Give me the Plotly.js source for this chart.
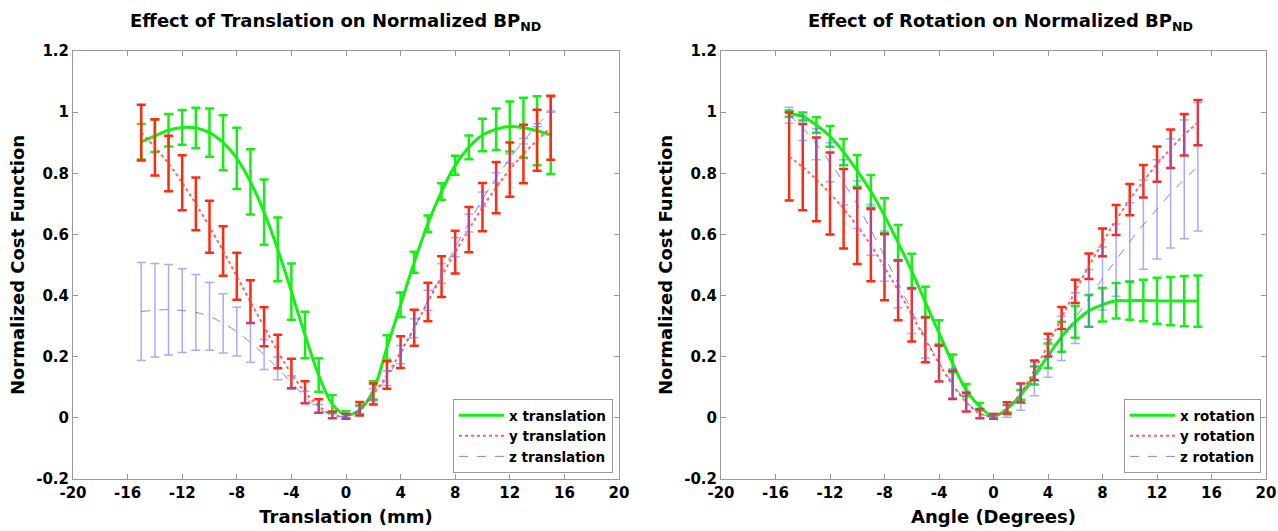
<!DOCTYPE html>
<html>
<head>
<meta charset="utf-8">
<script src="https://cdn.plot.ly/plotly-3.0.1.min.js"></script>
<style>html,body{margin:0;padding:0;background:#fff;}#chart{width:1278px;height:531px;}</style>
</head>
<body>
<div id="chart"></div>
<script>
// ---- data ----
const positions = [-15,-14,-13,-12,-11,-10,-9,-8,-7,-6,-5,-4,-3,-2,-1,0,1,2,3,4,5,6,7,8,9,10,11,12,13,14,15];

const xTransMean = [0.903,0.922,0.941,0.950,0.948,0.933,0.900,0.849,0.772,0.673,0.551,0.413,0.271,0.140,0.045,0.010,0.026,0.090,0.230,0.370,0.509,0.635,0.740,0.826,0.885,0.925,0.944,0.953,0.949,0.939,0.925];
const xTransErr  = [0.058,0.052,0.053,0.057,0.066,0.079,0.090,0.100,0.107,0.107,0.104,0.092,0.076,0.055,0.030,0.012,0.015,0.030,0.040,0.040,0.034,0.027,0.027,0.031,0.039,0.053,0.068,0.082,0.098,0.113,0.127];
const yTransMean = [0.933,0.885,0.832,0.769,0.700,0.625,0.546,0.463,0.380,0.298,0.217,0.145,0.084,0.039,0.010,0.005,0.030,0.078,0.140,0.215,0.295,0.379,0.462,0.542,0.616,0.689,0.753,0.812,0.863,0.908,0.949];
const yTransErr  = [0.091,0.092,0.091,0.090,0.086,0.085,0.081,0.077,0.070,0.064,0.055,0.048,0.036,0.022,0.011,0.008,0.022,0.034,0.045,0.052,0.059,0.063,0.067,0.070,0.074,0.079,0.084,0.089,0.096,0.100,0.105];
const zTransMean = [0.348,0.352,0.354,0.351,0.345,0.332,0.309,0.282,0.246,0.207,0.162,0.116,0.068,0.030,0.010,0.005,0.025,0.075,0.130,0.207,0.293,0.384,0.472,0.558,0.637,0.715,0.785,0.848,0.905,0.957,1.002];
const zTransErr  = [0.160,0.153,0.148,0.137,0.124,0.111,0.097,0.080,0.064,0.049,0.037,0.022,0.019,0.014,0.010,0.006,0.012,0.020,0.024,0.030,0.031,0.033,0.032,0.031,0.029,0.024,0.017,0.015,0.009,0.005,0.002];

const xRotMean = [0.995,0.986,0.958,0.921,0.869,0.808,0.741,0.661,0.573,0.480,0.378,0.278,0.178,0.091,0.037,0.005,0.030,0.075,0.139,0.203,0.265,0.314,0.350,0.370,0.383,0.383,0.384,0.383,0.382,0.382,0.382];
const xRotErr  = [0.010,0.013,0.025,0.034,0.043,0.052,0.053,0.057,0.058,0.057,0.051,0.041,0.029,0.020,0.012,0.008,0.012,0.016,0.030,0.040,0.049,0.052,0.052,0.055,0.058,0.062,0.068,0.075,0.079,0.082,0.084];
const yRotMean = [0.855,0.820,0.780,0.734,0.684,0.627,0.565,0.493,0.417,0.337,0.256,0.178,0.108,0.051,0.014,0.005,0.032,0.081,0.156,0.238,0.327,0.414,0.496,0.574,0.647,0.714,0.774,0.830,0.880,0.926,0.966];
const yRotErr  = [0.144,0.141,0.137,0.134,0.130,0.124,0.118,0.108,0.098,0.087,0.074,0.059,0.046,0.030,0.015,0.008,0.019,0.031,0.032,0.037,0.036,0.038,0.042,0.045,0.049,0.051,0.053,0.058,0.063,0.068,0.074];
const zRotMean = [0.990,0.948,0.895,0.836,0.770,0.697,0.615,0.529,0.439,0.351,0.262,0.181,0.113,0.054,0.015,0.005,0.022,0.067,0.126,0.195,0.260,0.326,0.391,0.456,0.516,0.576,0.632,0.682,0.734,0.780,0.821];
const zRotErr  = [0.026,0.041,0.051,0.064,0.074,0.078,0.083,0.082,0.079,0.075,0.067,0.062,0.048,0.033,0.015,0.008,0.020,0.042,0.054,0.062,0.072,0.083,0.094,0.103,0.118,0.128,0.146,0.162,0.178,0.194,0.210];

const xTickVals = [-20,-16,-12,-8,-4,0,4,8,12,16,20];
const xTickText = ['-20','-16','-12','-8','-4','0','4','8','12','16','20'];
const yTickVals = [-0.2,0,0.2,0.4,0.6,0.8,1,1.2];
const yTickText = ['-0.2','0','0.2','0.4','0.6','0.8','1','1.2'];

const seriesNames = ['x translation','y translation','z translation','x rotation','y rotation','z rotation'];
const titles = ['Effect of Translation on Normalized BP<sub>ND</sub>','Effect of Rotation on Normalized BP<sub>ND</sub>'];
const xTitles = ['Translation (mm)','Angle (Degrees)'];
const yTitle = 'Normalized Cost Function';

// ---- styles ----
const FONT = 'DejaVu Sans, Verdana, sans-serif';
const GREEN = '#14f014', RED = '#ff2a10', BLUE = 'rgba(90,90,255,0.75)';
const styles = [
  {line:{color:GREEN,width:3,dash:'solid',shape:'spline'}, err:{color:GREEN,thickness:2.5,width:4.5}},
  {line:{color:'rgba(255,70,70,0.85)',width:2,dash:'dot',shape:'spline'}, err:{color:RED,thickness:2.5,width:4.5}},
  {line:{color:BLUE,width:1,dash:'dash',shape:'spline'}, err:{color:'rgba(100,100,255,0.55)',thickness:1.5,width:4.5}}
];

function mk(y, e, i, name, xa, ya, leg){
  const s = styles[i];
  return {x:positions, y:y, name:name, type:'scatter', mode:'lines', xaxis:xa, yaxis:ya, legend:leg,
    line:s.line,
    error_y:{type:'data', array:e, visible:true, color:s.err.color, thickness:s.err.thickness, width:s.err.width}};
}

const data = [
  mk(xTransMean,xTransErr,0,seriesNames[0],'x','y','legend'),
  mk(yTransMean,yTransErr,1,seriesNames[1],'x','y','legend'),
  mk(zTransMean,zTransErr,2,seriesNames[2],'x','y','legend'),
  mk(xRotMean,xRotErr,0,seriesNames[3],'x2','y2','legend2'),
  mk(yRotMean,yRotErr,1,seriesNames[4],'x2','y2','legend2'),
  mk(zRotMean,zRotErr,2,seriesNames[5],'x2','y2','legend2')
];

const W = 1278, H = 531;
const tickfont = {family:FONT, size:15, color:'#000', weight:'bold'};
const titlefont = {family:FONT, size:18, color:'#000', weight:'bold'};
function xa(dom, title, anchor){
  return {domain:dom, anchor:anchor, range:[-20,20], tickvals:xTickVals, ticktext:xTickText,
    ticks:'inside', ticklen:5, tickcolor:'#999', showline:true, linecolor:'#999', linewidth:1, mirror:'ticks',
    showgrid:false, zeroline:false, tickfont:tickfont, fixedrange:true,
    title:{text:title, font:titlefont, standoff:9}};
}
function ya(anchor){
  return {domain:[1-479/H, 1-51/H], anchor:anchor, range:[-0.2,1.2], tickvals:yTickVals, ticktext:yTickText,
    ticks:'inside', ticklen:5, tickcolor:'#999', showline:true, linecolor:'#999', linewidth:1, mirror:'ticks',
    showgrid:false, zeroline:false, tickfont:tickfont, fixedrange:true,
    title:{text:yTitle, font:titlefont, standoff:6}};
}
const legfont = {family:FONT, size:13.5, color:'#000', weight:'bold'};
const layout = {
  width:W, height:H, margin:{l:0,r:0,t:0,b:0},
  paper_bgcolor:'#fff', plot_bgcolor:'#fff', showlegend:true,
  xaxis: xa([73/W, 619/W], xTitles[0], 'y'),
  yaxis: ya('x'),
  xaxis2: xa([721/W, 1266/W], xTitles[1], 'y2'),
  yaxis2: ya('x2'),
  legend:{x:613/W, y:1-473/H, xanchor:'right', yanchor:'bottom', bgcolor:'#fff', bordercolor:'#999', borderwidth:1, font:legfont, tracegroupgap:0, itemwidth:45},
  legend2:{x:1261/W, y:1-473/H, xanchor:'right', yanchor:'bottom', bgcolor:'#fff', bordercolor:'#999', borderwidth:1, font:legfont, tracegroupgap:0, itemwidth:45},
  annotations:[
    {text:titles[0], xref:'paper', yref:'paper', x:335/W, y:1-22/H, xanchor:'center', yanchor:'middle', showarrow:false, font:{family:FONT,size:18,color:'#000',weight:'bold'}},
    {text:titles[1], xref:'paper', yref:'paper', x:1000/W, y:1-22/H, xanchor:'center', yanchor:'middle', showarrow:false, font:{family:FONT,size:18,color:'#000',weight:'bold'}}
  ]
};
Plotly.newPlot('chart', data, layout, {staticPlot:true, displayModeBar:false});
</script>
</body>
</html>
